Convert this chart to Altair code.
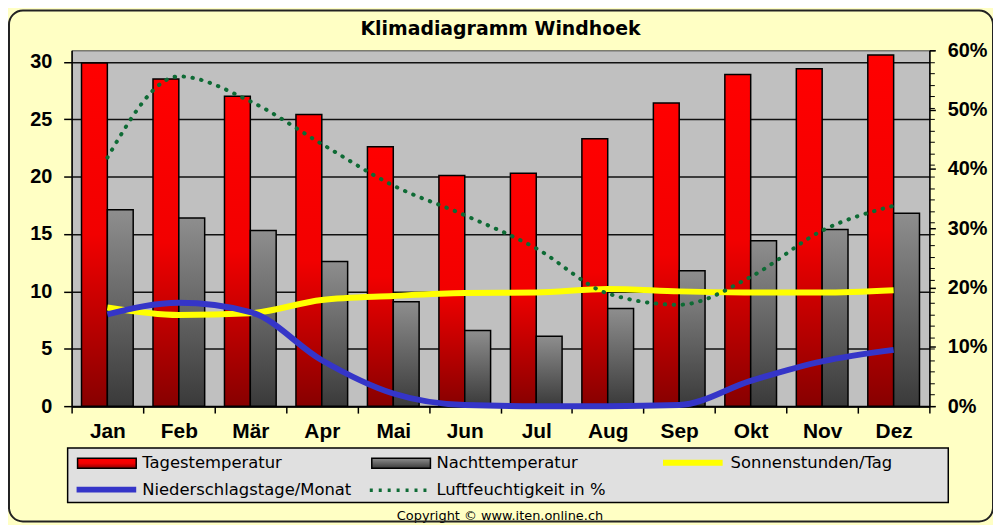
import altair as alt
import pandas as pd

months = ["Jan", "Feb", "Mär", "Apr", "Mai", "Jun", "Jul", "Aug", "Sep", "Okt", "Nov", "Dez"]
tages = [29.9, 28.5, 27.0, 25.4, 22.6, 20.1, 20.3, 23.3, 26.4, 28.9, 29.4, 30.6]
nacht = [17.1, 16.4, 15.3, 12.6, 9.1, 6.6, 6.1, 8.5, 11.8, 14.4, 15.4, 16.8]
sonne = [8.6, 7.95, 8.1, 9.25, 9.6, 9.85, 9.9, 10.2, 10.0, 9.9, 9.9, 10.1]
nieder = [8.0, 9.0, 8.2, 4.0, 1.1, 0.1, 0.0, 0.0, 0.1, 2.2, 3.9, 4.9]
luft = [41.9, 55.6, 51.4, 44.2, 37.2, 32.2, 26.6, 19.0, 17.1, 21.8, 29.6, 33.8]

left_ticks = [0, 5, 10, 15, 20, 25, 30]
minor_ticks = list(range(0, 32))
right_ticks = [0, 10, 20, 30, 40, 50, 60]

title_text = "Klimadiagramm Windhoek"
copyright_text = "Copyright © www.iten.online.ch"

df = pd.DataFrame({"month": months, "tag": tages, "nacht": nacht,
                   "sonne": sonne, "nieder": nieder, "luft": luft})
one = pd.DataFrame({"k": [0]})

W, H = 863, 358
AXF = "Liberation Sans"
LF = "DejaVu Sans"

xdef = alt.X("month:N", sort=months, title=None,
             scale=alt.Scale(paddingInner=0, paddingOuter=0),
             axis=alt.Axis(tickBand="extent", tickSize=7, tickColor="black", tickWidth=1.5,
                           domainColor="black", domainWidth=2, labelAngle=0,
                           labelFont=AXF, labelFontSize=21, labelFontWeight="bold",
                           labelColor="black", labelPadding=8, grid=False))

ydom = alt.Scale(domain=[0, 31], nice=False, zero=True)

def leg(x, y, shape, size, sw, off, dash=None):
    kw = dict(orient="none", legendX=x, legendY=y, title=None, padding=0,
              symbolType=shape, symbolSize=size, symbolStrokeWidth=sw,
              symbolOpacity=1, labelOffset=off, labelFont=LF, labelFontSize=16.5,
              labelColor="black", labelLimit=400)
    if dash is not None:
        kw["symbolDash"] = dash
    return alt.Legend(**kw)

RECT = "M-1,-0.17H1V0.17H-1Z"
LINE = "M-1,0H1"

red_grad = alt.Gradient(gradient="linear", x1=0, x2=0, y1=0, y2=1, stops=[
    alt.GradientStop(color="#FF0000", offset=0),
    alt.GradientStop(color="#F20000", offset=0.5),
    alt.GradientStop(color="#870000", offset=1)])
gray_grad = alt.Gradient(gradient="linear", x1=0, x2=0, y1=0, y2=1, stops=[
    alt.GradientStop(color="#8E8E8E", offset=0),
    alt.GradientStop(color="#3A3A3A", offset=1)])

base = alt.Chart(df)

legend_box = alt.Chart(one).mark_rect(fill="#E0E0E0", stroke="black", strokeWidth=1.5).encode(
    x=alt.value(-4), x2=alt.value(882), y=alt.value(400), y2=alt.value(455))

red = base.transform_calculate(series="'Tagestemperatur'").mark_bar(
    fill=red_grad, strokeWidth=1.5, width=26, xOffset=-13).encode(
    x=xdef,
    y=alt.Y("tag:Q", scale=ydom, title=None,
            axis=alt.Axis(values=left_ticks, grid=True, gridColor="#111", gridWidth=1.5,
                          tickSize=8, tickColor="black", tickWidth=1.5,
                          domainColor="black", domainWidth=1.5,
                          labelFont=AXF, labelFontSize=20, labelFontWeight="bold",
                          labelColor="black", labelPadding=12)),
    stroke=alt.Stroke("series:N", scale=alt.Scale(domain=["Tagestemperatur"], range=["black"]),
                      legend=leg(5, 385, RECT, 3481, 1.5, 5)))

gray = base.transform_calculate(series="'Nachttemperatur'").mark_bar(
    fill=gray_grad, strokeWidth=1.5, width=26, xOffset=13).encode(
    x=xdef,
    y=alt.Y("nacht:Q", scale=ydom, axis=None),
    stroke=alt.Stroke("series:N", scale=alt.Scale(domain=["Nachttemperatur"], range=["black"]),
                      legend=leg(301, 385, RECT, 3481, 1.5, 5)))

yellow = base.transform_calculate(series="'Sonnenstunden/Tag'").mark_line(
    strokeWidth=6, interpolate="monotone").encode(
    x=xdef,
    y=alt.Y("sonne:Q", scale=ydom, title=None,
            axis=alt.Axis(values=minor_ticks, labels=False, grid=False, domain=False,
                          tickSize=5, tickColor="black", tickWidth=1)),
    stroke=alt.Stroke("series:N", scale=alt.Scale(domain=["Sonnenstunden/Tag"], range=["#FFFF00"]),
                      legend=leg(592, 382, LINE, 3600, 6, 5)))

blue = base.transform_calculate(series="'Niederschlagstage/Monat'").mark_line(
    strokeWidth=6, interpolate="monotone").encode(
    x=xdef,
    y=alt.Y("nieder:Q", scale=ydom, axis=None),
    stroke=alt.Stroke("series:N", scale=alt.Scale(domain=["Niederschlagstage/Monat"], range=["#3535C8"]),
                      legend=leg(2, 409, LINE, 3600, 6, 3)))

green = base.transform_calculate(series="'Luftfeuchtigkeit in %'").mark_line(
    strokeWidth=4, strokeDash=[0.5, 8.5], strokeCap="round", interpolate="monotone").encode(
    x=xdef,
    y=alt.Y("luft:Q", scale=alt.Scale(domain=[0, 60], nice=False), title=None,
            axis=alt.Axis(orient="right", values=right_ticks, labelExpr="datum.value + '%'",
                          grid=False, tickSize=6, tickColor="black", tickWidth=1.5,
                          domainColor="black", domainWidth=1.5,
                          labelFont=AXF, labelFontSize=20, labelFontWeight="bold",
                          labelColor="black", labelPadding=12)),
    stroke=alt.Stroke("series:N", scale=alt.Scale(domain=["Luftfeuchtigkeit in %"], range=["#0E6B35"]),
                      legend=leg(298, 412, LINE, 3249, 3.5, 8, [3, 6])))

title_mark = alt.Chart(one).mark_text(
    text=title_text, font=LF, fontSize=19, fontWeight="bold", color="black",
    align="center", baseline="middle").encode(x=alt.value(W / 2), y=alt.value(-21))

copyright_txt = alt.Chart(one).mark_text(
    text=copyright_text, font=LF, fontSize=13, color="black",
    align="center", baseline="middle").encode(x=alt.value(431), y=alt.value(469))

frame = alt.Chart(one).mark_rect(filled=False, stroke="#222", strokeWidth=2, cornerRadius=14).encode(
    x=alt.value(-63), x2=alt.value(927), y=alt.value(-40), y2=alt.value(474))

chart = alt.layer(legend_box, red, gray, yellow, blue, green, title_mark, copyright_txt, frame).resolve_scale(
    y="independent", stroke="independent"
).properties(
    width=W, height=H,
    autosize=alt.AutoSizeParams(type="none"),
    padding={"left": 64, "top": 41, "right": 64, "bottom": 118},
    background="#FFFFC4",
).configure_view(fill="#C0C0C0", stroke="#444", strokeWidth=1)

chart.save("out.html", embed_options={"renderer": "svg", "actions": False})
